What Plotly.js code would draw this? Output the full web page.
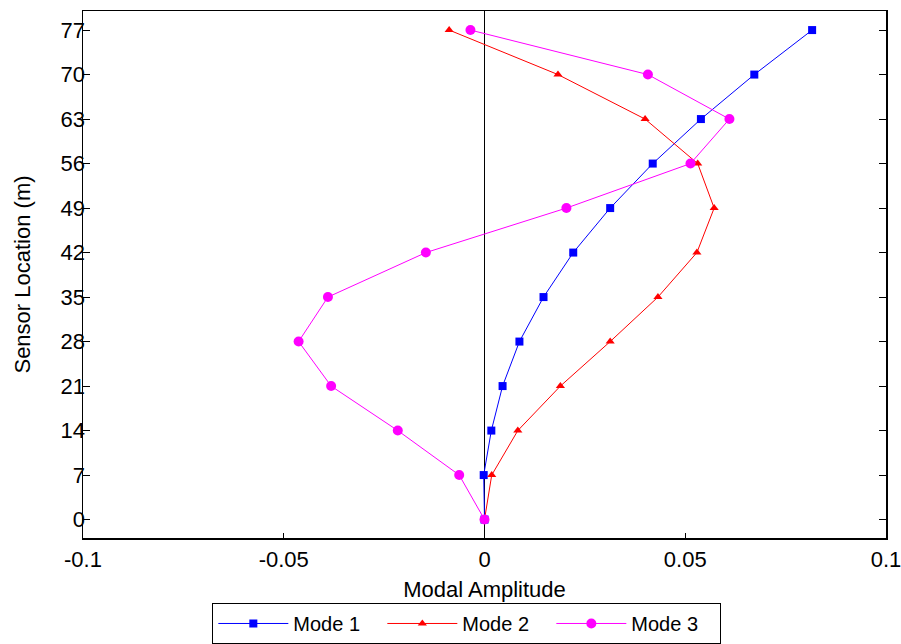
<!DOCTYPE html>
<html>
<head>
<meta charset="utf-8">
<script src="https://cdn.plot.ly/plotly-3.0.1.min.js"></script>
<style>html,body{margin:0;padding:0;background:#fff;}#chart{width:901px;height:644px;}</style>
</head>
<body>
<div id="chart"></div>
<script>
const sensorLocation = [0, 7, 14, 21, 28, 35, 42, 49, 56, 63, 70, 77];
const mode1 = [0, -0.0002, 0.0017, 0.0045, 0.0087, 0.0147, 0.0221, 0.0313, 0.0419, 0.0539, 0.0672, 0.0816];
const mode2 = [0, 0.0018, 0.0083, 0.0189, 0.0313, 0.0432, 0.0529, 0.0572, 0.0531, 0.0400, 0.0183, -0.0088];
const mode3 = [0, -0.0063, -0.0216, -0.0382, -0.0463, -0.0390, -0.0146, 0.0204, 0.0513, 0.0610, 0.0407, -0.0035];
const yTicks = [0, 7, 14, 21, 28, 35, 42, 49, 56, 63, 70, 77];
const xTicks = [-0.1, -0.05, 0, 0.05, 0.1];
const xTickLabels = ['-0.1', '-0.05', '0', '0.05', '0.1'];

const font = {family: 'Liberation Sans, Arial, sans-serif', size: 22, color: '#000'};
const legendFont = {family: 'Liberation Sans, Arial, sans-serif', size: 20, color: '#000'};

const traces = [
  {x: mode1, y: sensorLocation, name: 'Mode 1', mode: 'lines+markers',
   line: {color: '#0000ff', width: 1}, marker: {symbol: 'square', size: 8, color: '#0000ff'}},
  {x: mode2, y: sensorLocation, name: 'Mode 2', mode: 'lines+markers',
   line: {color: '#ff0000', width: 1}, marker: {symbol: 'triangle-up', size: 8, color: '#ff0000'}},
  {x: mode3, y: sensorLocation, name: 'Mode 3', mode: 'lines+markers',
   line: {color: '#ff00ff', width: 1}, marker: {symbol: 'circle', size: 10, color: '#ff00ff'}}
];

const layout = {
  width: 901, height: 644,
  margin: {l: 83, r: 15, t: 11, b: 106, autoexpand: false},
  paper_bgcolor: '#fff', plot_bgcolor: '#fff',
  font: font,
  showlegend: true,
  legend: {orientation: 'h', x: 0.478, xanchor: 'center', y: -0.1233, yanchor: 'top',
           bordercolor: '#000', borderwidth: 1, font: legendFont, itemwidth: 70,
           entrywidth: 84, entrywidthmode: 'pixels',
           bgcolor: '#fff'},
  xaxis: {range: [-0.1, 0.1], tickvals: xTicks, ticktext: xTickLabels,
          ticks: 'inside', ticklen: 5, tickcolor: '#000',
          showgrid: false, zeroline: true, zerolinecolor: '#000', zerolinewidth: 1,
          showline: true, linecolor: '#000', linewidth: 1.5, mirror: true,
          tickfont: font, ticklabelstandoff: 1, ticklabeloverflow: 'allow',
          automargin: false,
          title: {text: 'Modal Amplitude', font: font, standoff: 10}},
  yaxis: {range: [-2.9, 80], tickvals: yTicks,
          ticks: 'inside', ticklen: 7, tickcolor: '#000',
          showgrid: false, zeroline: false,
          showline: true, linecolor: '#000', linewidth: 1.5, mirror: 'ticks',
          tickfont: font, ticklabelstandoff: -8, ticklabeloverflow: 'allow',
          automargin: false,
          title: {text: 'Sensor Location (m)', font: font, standoff: 24}}
};

Plotly.newPlot('chart', traces, layout, {displayModeBar: false, staticPlot: true});
</script>
</body>
</html>
